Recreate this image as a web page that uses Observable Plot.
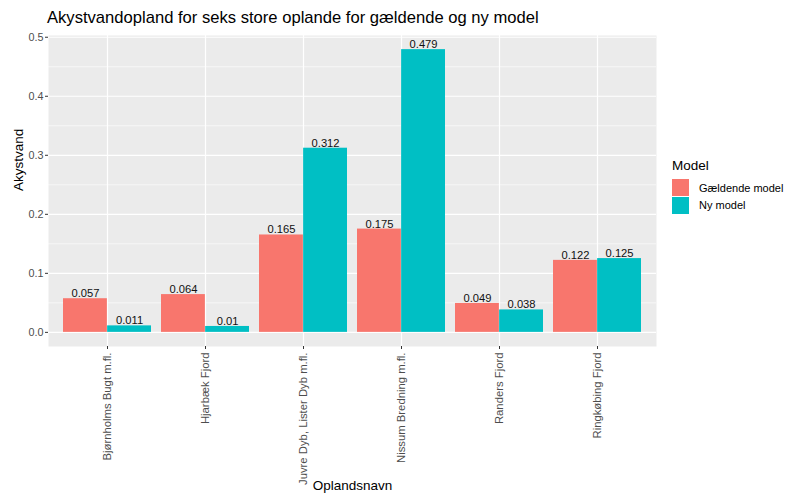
<!DOCTYPE html>
<html>
<head>
<meta charset="utf-8">
<script src="https://cdn.jsdelivr.net/npm/d3@7"></script>
<script src="https://cdn.jsdelivr.net/npm/@observablehq/plot@0.6"></script>
<style>
  html, body { margin: 0; padding: 0; background: white; }
  #wrap { position: relative; width: 794px; height: 499px; font-family: "Liberation Sans", Arial, sans-serif; }
  #title { position: absolute; left: 47px; top: 9px; font-size: 16.6px; line-height: 18px; color: #000; white-space: nowrap; }
  #legend { position: absolute; left: 672px; top: 158px; font-size: 11px; color: #000; }
  #legend .lt { font-size: 13.5px; margin-bottom: 6px; }
  #legend .item { display: flex; align-items: center; height: 17.5px; }
  #legend .sw { width: 17px; height: 17px; margin-right: 10px; }
</style>
</head>
<body>
<div id="wrap">
  <div id="chart"></div>
  <div id="title"></div>
  <div id="legend"></div>
</div>
<script>
const titleText = "Akystvandopland for seks store oplande for gældende og ny model";
const xLabel = "Oplandsnavn";
const yLabel = "Akystvand";
const legendTitle = "Model";
const categories = ["Bjørnholms Bugt m.fl.", "Hjarbæk Fjord", "Juvre Dyb, Lister Dyb m.fl.", "Nissum Bredning m.fl.", "Randers Fjord", "Ringkøbing Fjord"];
const models = ["Gældende model", "Ny model"];
const colors = ["#F8766D", "#00BFC4"];
const gaeldende = [0.057, 0.064, 0.165, 0.175, 0.049, 0.122];
const nyModel = [0.011, 0.01, 0.312, 0.479, 0.038, 0.125];
const yTicks = [0, 0.1, 0.2, 0.3, 0.4, 0.5];
const yMinor = [0.05, 0.15, 0.25, 0.35, 0.45];

const rows = categories.flatMap((c, i) => [
  {cat: c, model: models[0], value: gaeldende[i]},
  {cat: c, model: models[1], value: nyModel[i]}
]);
const rows0 = rows.filter(d => d.model === models[0]);
const rows1 = rows.filter(d => d.model === models[1]);

const W = 794, H = 499, ML = 48, MR = 138, MT = 35, MB = 153;
const padInner = 0.1, padOuter = 0.15;
const step = (W - ML - MR) / (categories.length - padInner + 2 * padOuter);
const half = step * (1 - padInner) / 2;
const ymax = d3.max(rows, d => d.value);
const ypad = ymax * 0.05;

const font = "Liberation Sans, Arial, sans-serif";

const chart = Plot.plot({
  width: W, height: H,
  marginLeft: ML, marginRight: MR, marginTop: MT, marginBottom: MB,
  style: {fontFamily: font, background: "white", color: "#4D4D4D"},
  x: {type: "band", domain: categories, paddingInner: padInner, paddingOuter: padOuter, axis: null},
  y: {domain: [-ypad, ymax + ypad], axis: null},
  color: {domain: models, range: colors},
  marks: [
    Plot.frame({fill: "#EBEBEB", stroke: null}),
    Plot.ruleY(yMinor, {y: d => d, stroke: "white", strokeWidth: 0.6}),
    Plot.ruleY(yTicks, {y: d => d, stroke: "white", strokeWidth: 1.2}),
    Plot.ruleX(categories, {x: d => d, stroke: "white", strokeWidth: 1.2}),
    Plot.barY(rows0, {x: "cat", y: "value", fill: "model", insetRight: half}),
    Plot.barY(rows1, {x: "cat", y: "value", fill: "model", insetLeft: half}),
    Plot.text(rows0, {x: "cat", y: "value", text: d => String(d.value), dx: -half / 2, dy: -1.5, lineAnchor: "bottom", fontSize: 11.2, fill: "#111"}),
    Plot.text(rows1, {x: "cat", y: "value", text: d => String(d.value), dx: half / 2, dy: -1.5, lineAnchor: "bottom", fontSize: 11.2, fill: "#111"}),
    Plot.axisY({ticks: yTicks, tickFormat: d3.format(".1f"), tickSize: 3, tickPadding: 2, fontSize: 10.8, label: null, stroke: "#333"}),
    Plot.axisX({tickRotate: -90, tickSize: 3, tickPadding: 3, fontSize: 11.3, label: null, stroke: "#333"}),
    Plot.text([yLabel], {frameAnchor: "left", rotate: -90, dx: -30, fontSize: 13.5, fill: "#000"}),
    Plot.text([xLabel], {frameAnchor: "bottom", dy: 143, fontSize: 13.5, fill: "#000"})
  ]
});
document.getElementById("chart").appendChild(chart);
document.getElementById("title").textContent = titleText;

const lg = document.getElementById("legend");
const lt = document.createElement("div");
lt.className = "lt";
lt.textContent = legendTitle;
lg.appendChild(lt);
models.forEach((m, i) => {
  const it = document.createElement("div");
  it.className = "item";
  const sw = document.createElement("div");
  sw.className = "sw";
  sw.style.background = colors[i];
  const tx = document.createElement("span");
  tx.textContent = m;
  it.appendChild(sw);
  it.appendChild(tx);
  lg.appendChild(it);
});
</script>
</body>
</html>
